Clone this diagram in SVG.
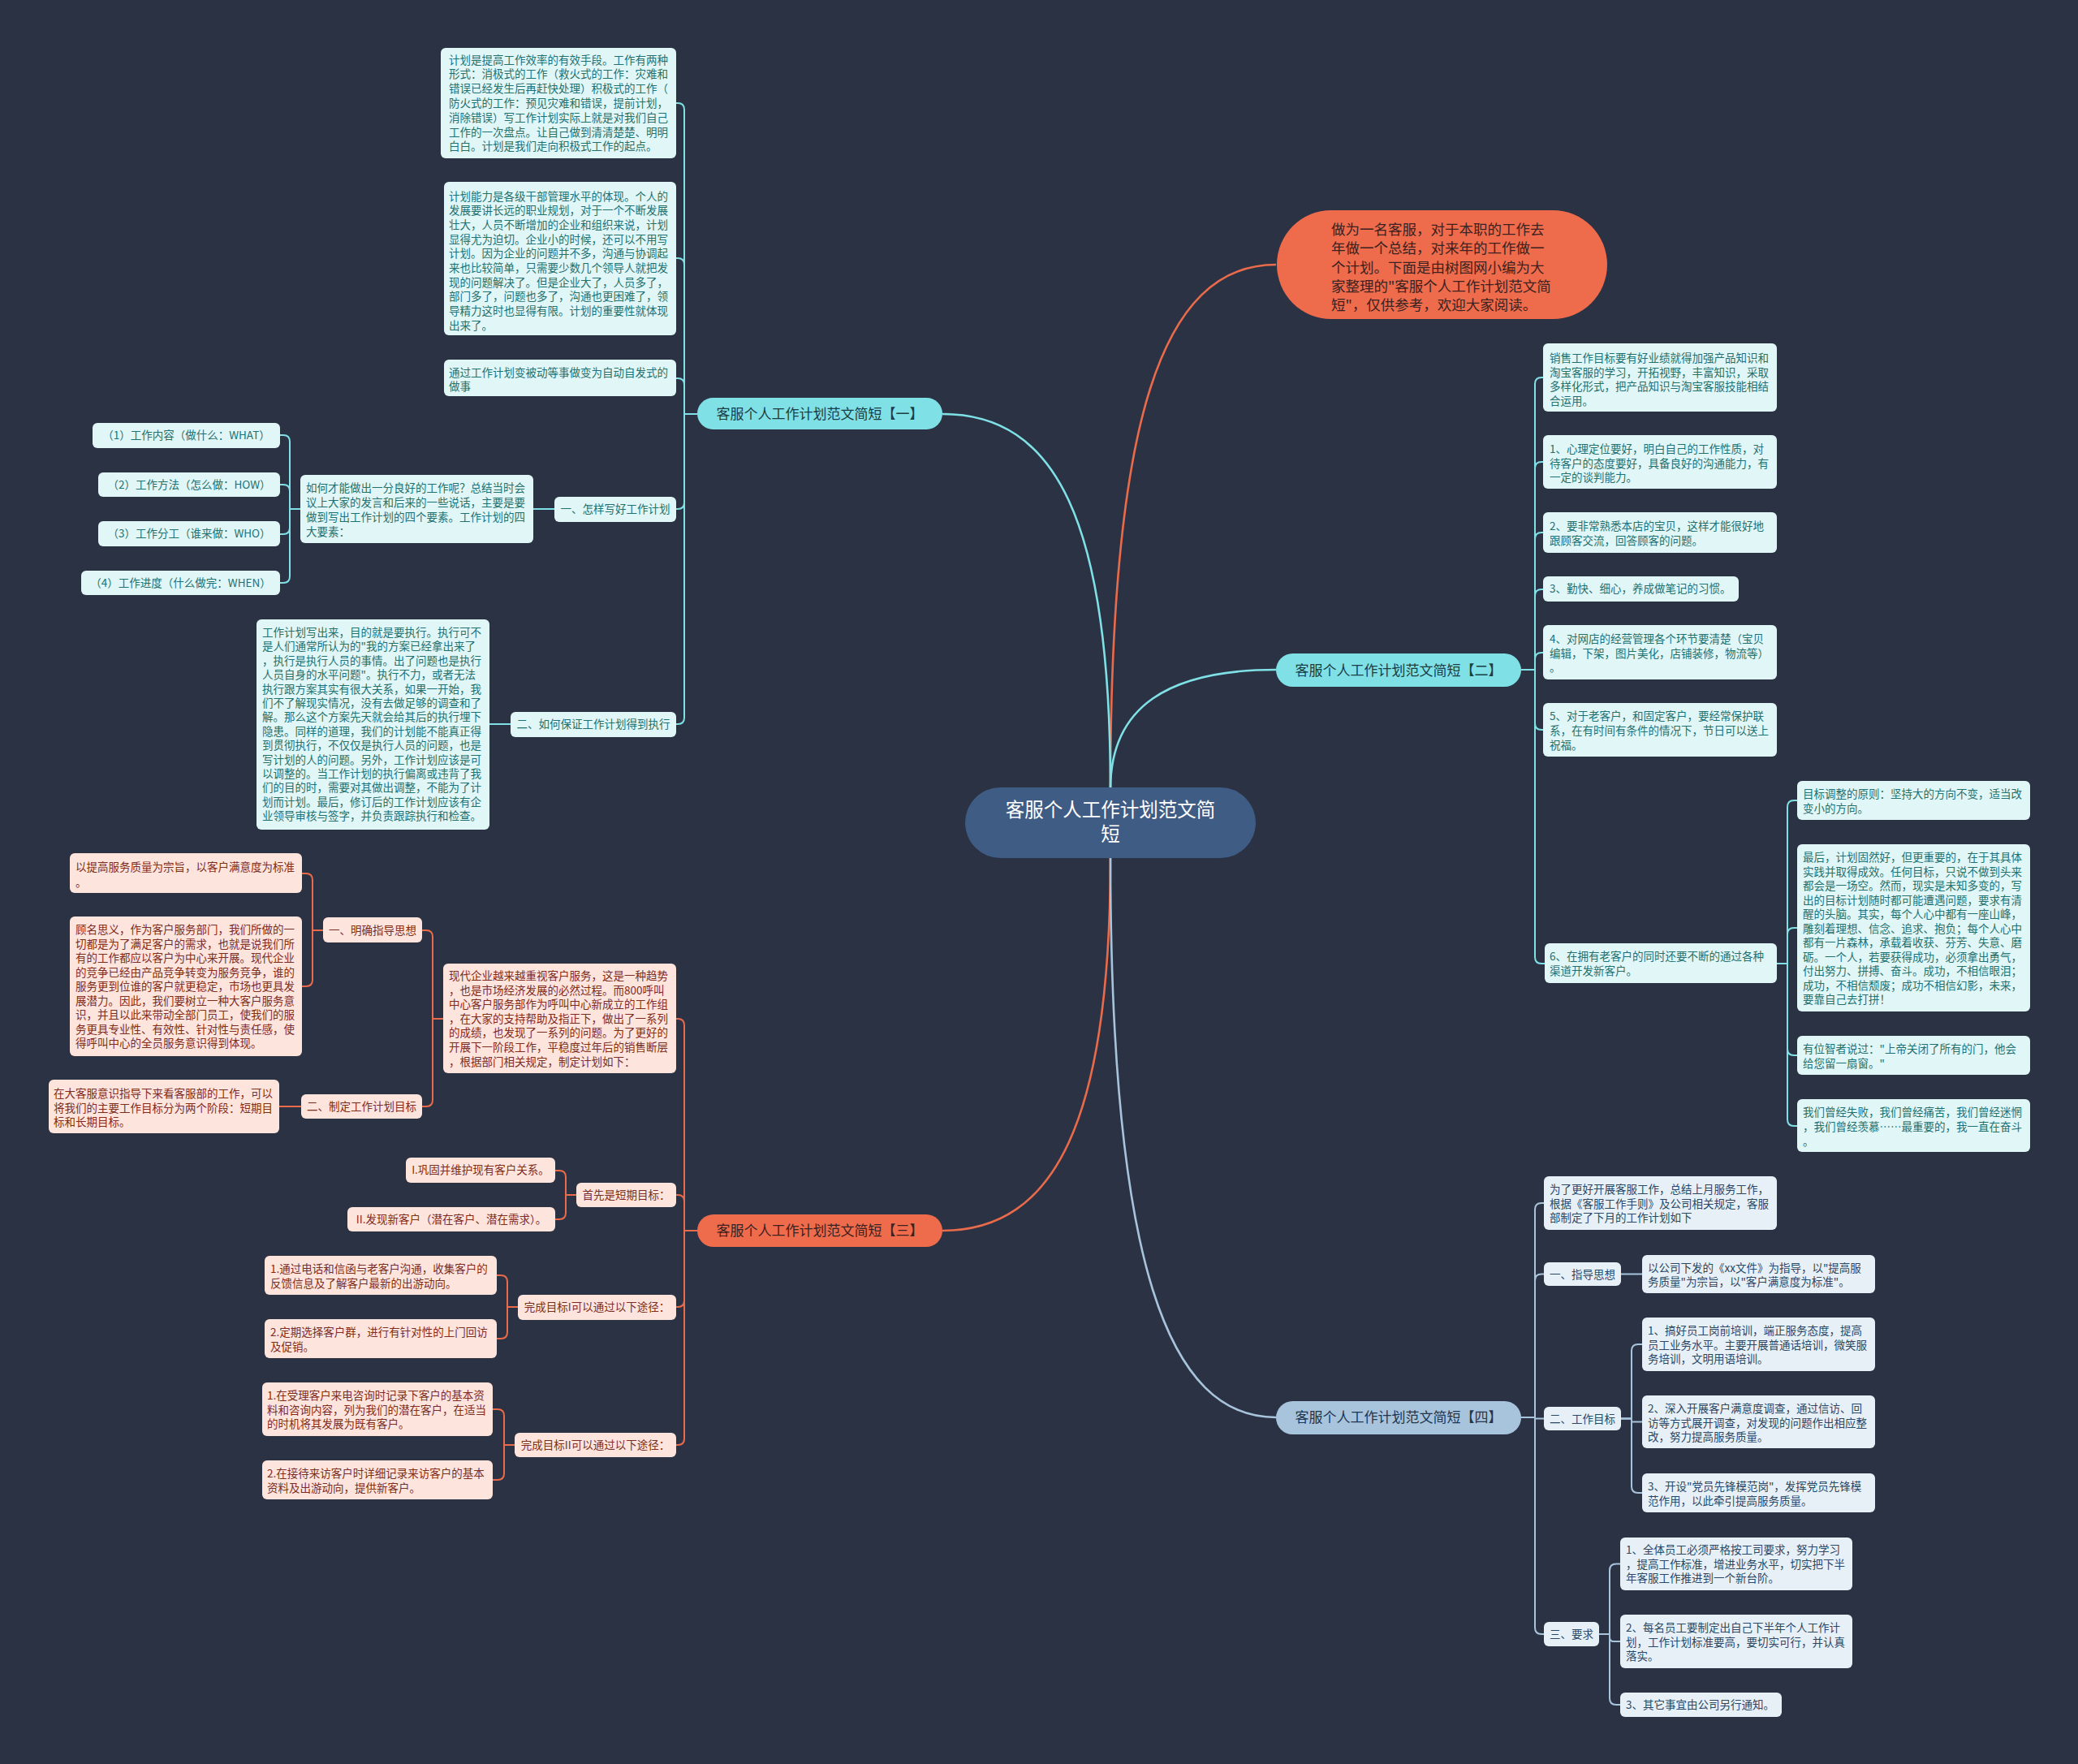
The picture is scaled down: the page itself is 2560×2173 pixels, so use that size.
<svg xmlns="http://www.w3.org/2000/svg" width="2560" height="2173" viewBox="0 0 2560 2173">
<style>
text{font-family:"Noto Sans CJK SC","Noto Sans",sans-serif;}
.t{font-size:13.5px;}
.c{text-anchor:middle;}
.cy{fill:#e1f7f7;}
.cyt{fill:#1f7070;}
.or{fill:#fde4dd;}
.ort{fill:#7d2d1d;}
.bl{fill:#e8f0f7;}
.blt{fill:#2a4866;}
.lc{fill:none;stroke:#7fe0e6;stroke-width:2;}
.lo{fill:none;stroke:#ea6b4b;stroke-width:2;}
.lb{fill:none;stroke:#a8c4dc;stroke-width:2;}
.main{stroke-width:2.6;}
</style>
<rect width="2560" height="2173" fill="#2b3243"/>
<g id="connectors">
<path class="lo main" d="M1368 972 C1368 520 1430 326 1572 326"/>
<path class="lc main" d="M1368 972 C1368 640 1300 510 1161 510"/>
<path class="lc main" d="M1368 972 C1368 870 1440 825 1572 825"/>
<path class="lo main" d="M1368 1056 C1368 1380 1300 1516 1161 1516"/>
<path class="lb main" d="M1368 1056 C1368 1560 1440 1746 1572 1746"/>
<path class="lc" d="M859 510 H843 V135 Q843 127 835 127 H833"/>
<path class="lc" d="M859 510 H843 V326 Q843 318 835 318 H833"/>
<path class="lc" d="M859 510 H843 V474 Q843 466 835 466 H833"/>
<path class="lc" d="M859 510 H843 V619 Q843 627 835 627 H833"/>
<path class="lc" d="M859 510 H843 V884 Q843 892 835 892 H833"/>
<path class="lc" d="M683 627 H657"/>
<path class="lc" d="M370 627 H357 V544 Q357 536 349 536 H345"/>
<path class="lc" d="M370 627 H357 V605 Q357 597 349 597 H345"/>
<path class="lc" d="M370 627 H357 V650 Q357 658 349 658 H345"/>
<path class="lc" d="M370 627 H357 V710 Q357 718 349 718 H345"/>
<path class="lc" d="M629 892 H603"/>
<path class="lo" d="M859 1516 H843 V1263 Q843 1255 835 1255 H833"/>
<path class="lo" d="M859 1516 H843 V1480 Q843 1472 835 1472 H833"/>
<path class="lo" d="M859 1516 H843 V1602 Q843 1610 835 1610 H833"/>
<path class="lo" d="M859 1516 H843 V1772 Q843 1780 835 1780 H833"/>
<path class="lo" d="M546 1255 H533 V1154 Q533 1146 525 1146 H520"/>
<path class="lo" d="M546 1255 H533 V1355 Q533 1363 525 1363 H520"/>
<path class="lo" d="M398 1146 H385 V1084 Q385 1076 377 1076 H372"/>
<path class="lo" d="M398 1146 H385 V1207 Q385 1215 377 1215 H372"/>
<path class="lo" d="M371 1363 H344"/>
<path class="lo" d="M710 1472 H697 V1450 Q697 1442 689 1442 H684"/>
<path class="lo" d="M710 1472 H697 V1494 Q697 1502 689 1502 H684"/>
<path class="lo" d="M638 1610 H625 V1579 Q625 1571 617 1571 H612"/>
<path class="lo" d="M638 1610 H625 V1641 Q625 1649 617 1649 H612"/>
<path class="lo" d="M634 1780 H621 V1744 Q621 1736 613 1736 H607"/>
<path class="lo" d="M634 1780 H621 V1815 Q621 1823 613 1823 H607"/>
<path class="lc" d="M1874 825 H1891 V473 Q1891 465 1899 465 H1901"/>
<path class="lc" d="M1874 825 H1891 V577 Q1891 569 1899 569 H1901"/>
<path class="lc" d="M1874 825 H1891 V664 Q1891 656 1899 656 H1901"/>
<path class="lc" d="M1874 825 H1891 V734 Q1891 726 1899 726 H1901"/>
<path class="lc" d="M1874 825 H1891 V812 Q1891 804 1899 804 H1901"/>
<path class="lc" d="M1874 825 H1891 V891 Q1891 899 1899 899 H1901"/>
<path class="lc" d="M1874 825 H1891 V1179 Q1891 1187 1899 1187 H1903"/>
<path class="lc" d="M2189 1187 H2202 V994 Q2202 986 2210 986 H2214"/>
<path class="lc" d="M2189 1187 H2202 V1151 Q2202 1143 2210 1143 H2214"/>
<path class="lc" d="M2189 1187 H2202 V1292 Q2202 1300 2210 1300 H2214"/>
<path class="lc" d="M2189 1187 H2202 V1379 Q2202 1387 2210 1387 H2214"/>
<path class="lb" d="M1874 1746 H1891 V1490 Q1891 1482 1899 1482 H1902"/>
<path class="lb" d="M1874 1746 H1891 V1577.5 Q1891 1569.5 1899 1569.5 H1902"/>
<path class="lb" d="M1874 1746 H1891 V1747.5 H1902"/>
<path class="lb" d="M1874 1746 H1891 V2005 Q1891 2013 1899 2013 H1902"/>
<path class="lb" d="M1997 1569.5 H2023"/>
<path class="lb" d="M1997 1747.5 H2010 V1664 Q2010 1656 2018 1656 H2023"/>
<path class="lb" d="M1997 1747.5 H2010 V1751.5 H2023"/>
<path class="lb" d="M1997 1747.5 H2010 V1831 Q2010 1839 2018 1839 H2023"/>
<path class="lb" d="M1970 2013 H1983 V1934.5 Q1983 1926.5 1991 1926.5 H1996"/>
<path class="lb" d="M1970 2013 H1983 V2017 Q1983 2022 1988 2022 H1996"/>
<path class="lb" d="M1970 2013 H1983 V2092 Q1983 2100 1991 2100 H1996"/>
</g>
<g id="center">
<rect x="1189" y="970" width="358" height="87" rx="43.5" fill="#3f5c84"/>
<text x="1368" y="1006" class="c" font-size="23.5" fill="#ffffff">客服个人工作计划范文简<tspan x="1368" dy="30">短</tspan></text>
</g>
<g id="intro">
<rect x="1573" y="259" width="407" height="134" rx="67" fill="#ee6b4c"/>
<text x="1640" y="289" font-size="17.5" fill="#3b2220">做为一名客服，对于本职的工作去<tspan x="1640" dy="23.3">年做一个总结，对来年的工作做一</tspan><tspan x="1640" dy="23.3">个计划。下面是由树图网小编为大</tspan><tspan x="1640" dy="23.3">家整理的"客服个人工作计划范文简</tspan><tspan x="1640" dy="23.3">短"，仅供参考，欢迎大家阅读。</tspan></text>
</g>
<g id="branch1">
<rect x="859" y="490" width="302" height="39" rx="19.5" fill="#7fe0e6"/>
<text x="1010" y="516" class="c" font-size="17" fill="#1b3d44">客服个人工作计划范文简短【一】</text>
</g>
<g id="branch2">
<rect x="1572" y="805" width="302" height="41" rx="20.5" fill="#7fe0e6"/>
<text x="1723" y="832" class="c" font-size="17" fill="#1b3d44">客服个人工作计划范文简短【二】</text>
</g>
<g id="branch3">
<rect x="859" y="1496" width="302" height="40" rx="20" fill="#ee6b4c"/>
<text x="1010" y="1522" class="c" font-size="17" fill="#3b2220">客服个人工作计划范文简短【三】</text>
</g>
<g id="branch4">
<rect x="1572" y="1726" width="302" height="41" rx="20.5" fill="#a8c4dc"/>
<text x="1723" y="1752" class="c" font-size="17" fill="#1f3550">客服个人工作计划范文简短【四】</text>
</g>
<g id="b1-n1">
<rect class="cy" x="543" y="59" width="290" height="136" rx="6"/>
<text class="t cyt" x="553" y="78.5">计划是提高工作效率的有效手段。工作有两种<tspan x="553" dy="17.8">形式：消极式的工作（救火式的工作：灾难和</tspan><tspan x="553" dy="17.8">错误已经发生后再赶快处理）积极式的工作（</tspan><tspan x="553" dy="17.8">防火式的工作：预见灾难和错误，提前计划，</tspan><tspan x="553" dy="17.8">消除错误）写工作计划实际上就是对我们自己</tspan><tspan x="553" dy="17.8">工作的一次盘点。让自己做到清清楚楚、明明</tspan><tspan x="553" dy="17.8">白白。计划是我们走向积极式工作的起点。</tspan></text>
</g>
<g id="b1-n2">
<rect class="cy" x="547" y="224" width="286" height="189" rx="6"/>
<text class="t cyt" x="553" y="246.5">计划能力是各级干部管理水平的体现。个人的<tspan x="553" dy="17.7">发展要讲长远的职业规划，对于一个不断发展</tspan><tspan x="553" dy="17.7">壮大，人员不断增加的企业和组织来说，计划</tspan><tspan x="553" dy="17.7">显得尤为迫切。企业小的时候，还可以不用写</tspan><tspan x="553" dy="17.7">计划。因为企业的问题并不多，沟通与协调起</tspan><tspan x="553" dy="17.7">来也比较简单，只需要少数几个领导人就把发</tspan><tspan x="553" dy="17.7">现的问题解决了。但是企业大了，人员多了，</tspan><tspan x="553" dy="17.7">部门多了，问题也多了，沟通也更困难了，领</tspan><tspan x="553" dy="17.7">导精力这时也显得有限。计划的重要性就体现</tspan><tspan x="553" dy="17.7">出来了。</tspan></text>
</g>
<g id="b1-n3">
<rect class="cy" x="547" y="443" width="286" height="45" rx="6"/>
<text class="t cyt" x="553" y="464">通过工作计划变被动等事做变为自动自发式的<tspan x="553" dy="17">做事</tspan></text>
</g>
<g id="b1-n4">
<rect class="cy" x="683" y="612" width="150" height="31" rx="6"/>
<text class="t cyt c" x="758" y="632">一、怎样写好工作计划</text>
</g>
<g id="b1-n4a">
<rect class="cy" x="370" y="585" width="287" height="84" rx="6"/>
<text class="t cyt" x="377" y="605.5">如何才能做出一分良好的工作呢？总结当时会<tspan x="377" dy="18.3">议上大家的发言和后来的一些说话，主要是要</tspan><tspan x="377" dy="18.3">做到写出工作计划的四个要素。工作计划的四</tspan><tspan x="377" dy="18.3">大要素：</tspan></text>
</g>
<g id="b1-e1">
<rect class="cy" x="114" y="521" width="231" height="31" rx="6"/>
<text class="t cyt c" x="229.5" y="541">（1）工作内容（做什么：WHAT）</text>
</g>
<g id="b1-e2">
<rect class="cy" x="121" y="582" width="224" height="30" rx="6"/>
<text class="t cyt c" x="233" y="602">（2）工作方法（怎么做：HOW）</text>
</g>
<g id="b1-e3">
<rect class="cy" x="121" y="642" width="224" height="31" rx="6"/>
<text class="t cyt c" x="233" y="662">（3）工作分工（谁来做：WHO）</text>
</g>
<g id="b1-e4">
<rect class="cy" x="100" y="703" width="245" height="30" rx="6"/>
<text class="t cyt c" x="222.5" y="723">（4）工作进度（什么做完：WHEN）</text>
</g>
<g id="b1-n5">
<rect class="cy" x="629" y="877" width="204" height="31" rx="6"/>
<text class="t cyt c" x="731" y="897">二、如何保证工作计划得到执行</text>
</g>
<g id="b1-n5a">
<rect class="cy" x="316" y="763" width="287" height="259" rx="6"/>
<text class="t cyt" x="323" y="784">工作计划写出来，目的就是要执行。执行可不<tspan x="323" dy="17.4">是人们通常所认为的"我的方案已经拿出来了</tspan><tspan x="323" dy="17.4">，执行是执行人员的事情。出了问题也是执行</tspan><tspan x="323" dy="17.4">人员自身的水平问题"。执行不力，或者无法</tspan><tspan x="323" dy="17.4">执行跟方案其实有很大关系，如果一开始，我</tspan><tspan x="323" dy="17.4">们不了解现实情况，没有去做足够的调查和了</tspan><tspan x="323" dy="17.4">解。那么这个方案先天就会给其后的执行埋下</tspan><tspan x="323" dy="17.4">隐患。同样的道理，我们的计划能不能真正得</tspan><tspan x="323" dy="17.4">到贯彻执行，不仅仅是执行人员的问题，也是</tspan><tspan x="323" dy="17.4">写计划的人的问题。另外，工作计划应该是可</tspan><tspan x="323" dy="17.4">以调整的。当工作计划的执行偏离或违背了我</tspan><tspan x="323" dy="17.4">们的目的时，需要对其做出调整，不能为了计</tspan><tspan x="323" dy="17.4">划而计划。最后，修订后的工作计划应该有企</tspan><tspan x="323" dy="17.4">业领导审核与签字，并负责跟踪执行和检查。</tspan></text>
</g>
<g id="b3-n1">
<rect class="or" x="546" y="1187" width="287" height="135" rx="6"/>
<text class="t ort" x="553" y="1207">现代企业越来越重视客户服务，这是一种趋势<tspan x="553" dy="17.6">，也是市场经济发展的必然过程。而800呼叫</tspan><tspan x="553" dy="17.6">中心客户服务部作为呼叫中心新成立的工作组</tspan><tspan x="553" dy="17.6">，在大家的支持帮助及指正下，做出了一系列</tspan><tspan x="553" dy="17.6">的成绩，也发现了一系列的问题。为了更好的</tspan><tspan x="553" dy="17.6">开展下一阶段工作，平稳度过年后的销售断层</tspan><tspan x="553" dy="17.6">，根据部门相关规定，制定计划如下：</tspan></text>
</g>
<g id="b3-n1a">
<rect class="or" x="398" y="1130" width="122" height="31" rx="6"/>
<text class="t ort c" x="459" y="1151">一、明确指导思想</text>
</g>
<g id="b3-n1a1">
<rect class="or" x="86" y="1051" width="286" height="49" rx="6"/>
<text class="t ort" x="93" y="1073">以提高服务质量为宗旨，以客户满意度为标准<tspan x="93" dy="18.5">。</tspan></text>
</g>
<g id="b3-n1a2">
<rect class="or" x="86" y="1129" width="286" height="172" rx="6"/>
<text class="t ort" x="93" y="1150">顾名思义，作为客户服务部门，我们所做的一<tspan x="93" dy="17.5">切都是为了满足客户的需求，也就是说我们所</tspan><tspan x="93" dy="17.5">有的工作都应以客户为中心来开展。现代企业</tspan><tspan x="93" dy="17.5">的竞争已经由产品竞争转变为服务竞争，谁的</tspan><tspan x="93" dy="17.5">服务更到位谁的客户就更稳定，市场也更具发</tspan><tspan x="93" dy="17.5">展潜力。因此，我们要树立一种大客户服务意</tspan><tspan x="93" dy="17.5">识，并且以此来带动全部门员工，使我们的服</tspan><tspan x="93" dy="17.5">务更具专业性、有效性、针对性与责任感，使</tspan><tspan x="93" dy="17.5">得呼叫中心的全员服务意识得到体现。</tspan></text>
</g>
<g id="b3-n1b">
<rect class="or" x="371" y="1348" width="149" height="30" rx="6"/>
<text class="t ort c" x="445.5" y="1368">二、制定工作计划目标</text>
</g>
<g id="b3-n1b1">
<rect class="or" x="60" y="1330" width="284" height="66" rx="6"/>
<text class="t ort" x="66" y="1352">在大客服意识指导下来看客服部的工作，可以<tspan x="66" dy="17.5">将我们的主要工作目标分为两个阶段：短期目</tspan><tspan x="66" dy="17.5">标和长期目标。</tspan></text>
</g>
<g id="b3-n2">
<rect class="or" x="710" y="1457" width="123" height="30" rx="6"/>
<text class="t ort c" x="771.5" y="1477">首先是短期目标：</text>
</g>
<g id="b3-n2a">
<rect class="or" x="500" y="1426" width="184" height="31" rx="6"/>
<text class="t ort c" x="592" y="1446">I.巩固并维护现有客户关系。</text>
</g>
<g id="b3-n2b">
<rect class="or" x="428" y="1487" width="256" height="30" rx="6"/>
<text class="t ort c" x="556" y="1507">II.发现新客户（潜在客户、潜在需求）。</text>
</g>
<g id="b3-n3">
<rect class="or" x="638" y="1595" width="195" height="31" rx="6"/>
<text class="t ort c" x="735.5" y="1615">完成目标I可以通过以下途径：</text>
</g>
<g id="b3-n3a">
<rect class="or" x="326" y="1547" width="286" height="48" rx="6"/>
<text class="t ort" x="333" y="1568">1.通过电话和信函与老客户沟通，收集客户的<tspan x="333" dy="18">反馈信息及了解客户最新的出游动向。</tspan></text>
</g>
<g id="b3-n3b">
<rect class="or" x="326" y="1625" width="286" height="48" rx="6"/>
<text class="t ort" x="333" y="1646">2.定期选择客户群，进行有针对性的上门回访<tspan x="333" dy="18">及促销。</tspan></text>
</g>
<g id="b3-n4">
<rect class="or" x="634" y="1765" width="199" height="30" rx="6"/>
<text class="t ort c" x="733.5" y="1785">完成目标II可以通过以下途径：</text>
</g>
<g id="b3-n4a">
<rect class="or" x="323" y="1703" width="284" height="66" rx="6"/>
<text class="t ort" x="329" y="1724">1.在受理客户来电咨询时记录下客户的基本资<tspan x="329" dy="17.5">料和咨询内容，列为我们的潜在客户，在适当</tspan><tspan x="329" dy="17.5">的时机将其发展为既有客户。</tspan></text>
</g>
<g id="b3-n4b">
<rect class="or" x="323" y="1799" width="284" height="48" rx="6"/>
<text class="t ort" x="329" y="1820">2.在接待来访客户时详细记录来访客户的基本<tspan x="329" dy="18">资料及出游动向，提供新客户。</tspan></text>
</g>
<g id="b2-n1">
<rect class="cy" x="1901" y="423" width="288" height="84" rx="6"/>
<text class="t cyt" x="1909" y="446">销售工作目标要有好业绩就得加强产品知识和<tspan x="1909" dy="17.6">淘宝客服的学习，开拓视野，丰富知识，采取</tspan><tspan x="1909" dy="17.6">多样化形式，把产品知识与淘宝客服技能相结</tspan><tspan x="1909" dy="17.6">合运用。</tspan></text>
</g>
<g id="b2-n2">
<rect class="cy" x="1901" y="536" width="288" height="66" rx="6"/>
<text class="t cyt" x="1909" y="558">1、心理定位要好，明白自己的工作性质，对<tspan x="1909" dy="17.6">待客户的态度要好，具备良好的沟通能力，有</tspan><tspan x="1909" dy="17.6">一定的谈判能力。</tspan></text>
</g>
<g id="b2-n3">
<rect class="cy" x="1901" y="631" width="288" height="50" rx="6"/>
<text class="t cyt" x="1909" y="653">2、要非常熟悉本店的宝贝，这样才能很好地<tspan x="1909" dy="17.6">跟顾客交流，回答顾客的问题。</tspan></text>
</g>
<g id="b2-n4">
<rect class="cy" x="1901" y="710" width="241" height="31" rx="6"/>
<text class="t cyt" x="1909" y="730">3、勤快、细心，养成做笔记的习惯。</text>
</g>
<g id="b2-n5">
<rect class="cy" x="1901" y="770" width="288" height="67" rx="6"/>
<text class="t cyt" x="1909" y="792">4、对网店的经营管理各个环节要清楚（宝贝<tspan x="1909" dy="17.6">编辑，下架，图片美化，店铺装修，物流等）</tspan><tspan x="1909" dy="17.6">。</tspan></text>
</g>
<g id="b2-n6">
<rect class="cy" x="1901" y="866" width="288" height="66" rx="6"/>
<text class="t cyt" x="1909" y="887">5、对于老客户，和固定客户，要经常保护联<tspan x="1909" dy="17.8">系，在有时间有条件的情况下，节日可以送上</tspan><tspan x="1909" dy="17.8">祝福。</tspan></text>
</g>
<g id="b2-n7">
<rect class="cy" x="1903" y="1162" width="286" height="49" rx="6"/>
<text class="t cyt" x="1909" y="1183">6、在拥有老客户的同时还要不断的通过各种<tspan x="1909" dy="17.5">渠道开发新客户。</tspan></text>
</g>
<g id="b2-n7a">
<rect class="cy" x="2214" y="962" width="287" height="48" rx="6"/>
<text class="t cyt" x="2221" y="983">目标调整的原则：坚持大的方向不变，适当改<tspan x="2221" dy="18">变小的方向。</tspan></text>
</g>
<g id="b2-n7b">
<rect class="cy" x="2214" y="1040" width="287" height="206" rx="6"/>
<text class="t cyt" x="2221" y="1061">最后，计划固然好，但更重要的，在于其具体<tspan x="2221" dy="17.5">实践并取得成效。任何目标，只说不做到头来</tspan><tspan x="2221" dy="17.5">都会是一场空。然而，现实是未知多变的，写</tspan><tspan x="2221" dy="17.5">出的目标计划随时都可能遭遇问题，要求有清</tspan><tspan x="2221" dy="17.5">醒的头脑。其实，每个人心中都有一座山峰，</tspan><tspan x="2221" dy="17.5">雕刻着理想、信念、追求、抱负；每个人心中</tspan><tspan x="2221" dy="17.5">都有一片森林，承载着收获、芬芳、失意、磨</tspan><tspan x="2221" dy="17.5">砺。一个人，若要获得成功，必须拿出勇气，</tspan><tspan x="2221" dy="17.5">付出努力、拼搏、奋斗。成功，不相信眼泪；</tspan><tspan x="2221" dy="17.5">成功，不相信颓废；成功不相信幻影，未来，</tspan><tspan x="2221" dy="17.5">要靠自己去打拼！</tspan></text>
</g>
<g id="b2-n7c">
<rect class="cy" x="2214" y="1276" width="287" height="48" rx="6"/>
<text class="t cyt" x="2221" y="1297">有位智者说过："上帝关闭了所有的门，他会<tspan x="2221" dy="18">给您留一扇窗。"</tspan></text>
</g>
<g id="b2-n7d">
<rect class="cy" x="2214" y="1354" width="287" height="65" rx="6"/>
<text class="t cyt" x="2221" y="1375">我们曾经失败，我们曾经痛苦，我们曾经迷惘<tspan x="2221" dy="18">，我们曾经羡慕……最重要的，我一直在奋斗</tspan><tspan x="2221" dy="18">。</tspan></text>
</g>
<g id="b4-n1">
<rect class="bl" x="1902" y="1449" width="287" height="66" rx="6"/>
<text class="t blt" x="1909" y="1470">为了更好开展客服工作，总结上月服务工作，<tspan x="1909" dy="17.6">根据《客服工作手则》及公司相关规定，客服</tspan><tspan x="1909" dy="17.6">部制定了下月的工作计划如下</tspan></text>
</g>
<g id="b4-n2">
<rect class="bl" x="1902" y="1555" width="95" height="29" rx="6"/>
<text class="t blt c" x="1949.5" y="1574.5">一、指导思想</text>
</g>
<g id="b4-n2a">
<rect class="bl" x="2023" y="1546" width="287" height="47" rx="6"/>
<text class="t blt" x="2030" y="1566.5">以公司下发的《xx文件》为指导，以"提高服<tspan x="2030" dy="17.3">务质量"为宗旨，以"客户满意度为标准"。</tspan></text>
</g>
<g id="b4-n3">
<rect class="bl" x="1902" y="1733" width="95" height="29" rx="6"/>
<text class="t blt c" x="1949.5" y="1752.5">二、工作目标</text>
</g>
<g id="b4-n3a">
<rect class="bl" x="2023" y="1623" width="287" height="66" rx="6"/>
<text class="t blt" x="2030" y="1644">1、搞好员工岗前培训，端正服务态度，提高<tspan x="2030" dy="17.6">员工业务水平。主要开展普通话培训，微笑服</tspan><tspan x="2030" dy="17.6">务培训，文明用语培训。</tspan></text>
</g>
<g id="b4-n3b">
<rect class="bl" x="2023" y="1719" width="287" height="65" rx="6"/>
<text class="t blt" x="2030" y="1740">2、深入开展客户满意度调查，通过信访、回<tspan x="2030" dy="17.6">访等方式展开调查，对发现的问题作出相应整</tspan><tspan x="2030" dy="17.6">改，努力提高服务质量。</tspan></text>
</g>
<g id="b4-n3c">
<rect class="bl" x="2023" y="1815" width="287" height="48" rx="6"/>
<text class="t blt" x="2030" y="1836">3、开设"党员先锋模范岗"，发挥党员先锋模<tspan x="2030" dy="17.6">范作用，以此牵引提高服务质量。</tspan></text>
</g>
<g id="b4-n4">
<rect class="bl" x="1902" y="1998" width="68" height="30" rx="6"/>
<text class="t blt c" x="1936" y="2018">三、要求</text>
</g>
<g id="b4-n4a">
<rect class="bl" x="1996" y="1894" width="286" height="65" rx="6"/>
<text class="t blt" x="2003" y="1914">1、全体员工必须严格按工司要求，努力学习<tspan x="2003" dy="17.6">，提高工作标准，增进业务水平，切实把下半</tspan><tspan x="2003" dy="17.6">年客服工作推进到一个新台阶。</tspan></text>
</g>
<g id="b4-n4b">
<rect class="bl" x="1996" y="1989" width="286" height="66" rx="6"/>
<text class="t blt" x="2003" y="2010">2、每名员工要制定出自己下半年个人工作计<tspan x="2003" dy="17.6">划，工作计划标准要高，要切实可行，并认真</tspan><tspan x="2003" dy="17.6">落实。</tspan></text>
</g>
<g id="b4-n4c">
<rect class="bl" x="1996" y="2085" width="199" height="30" rx="6"/>
<text class="t blt" x="2003" y="2105">3、其它事宜由公司另行通知。</text>
</g>
</svg>
